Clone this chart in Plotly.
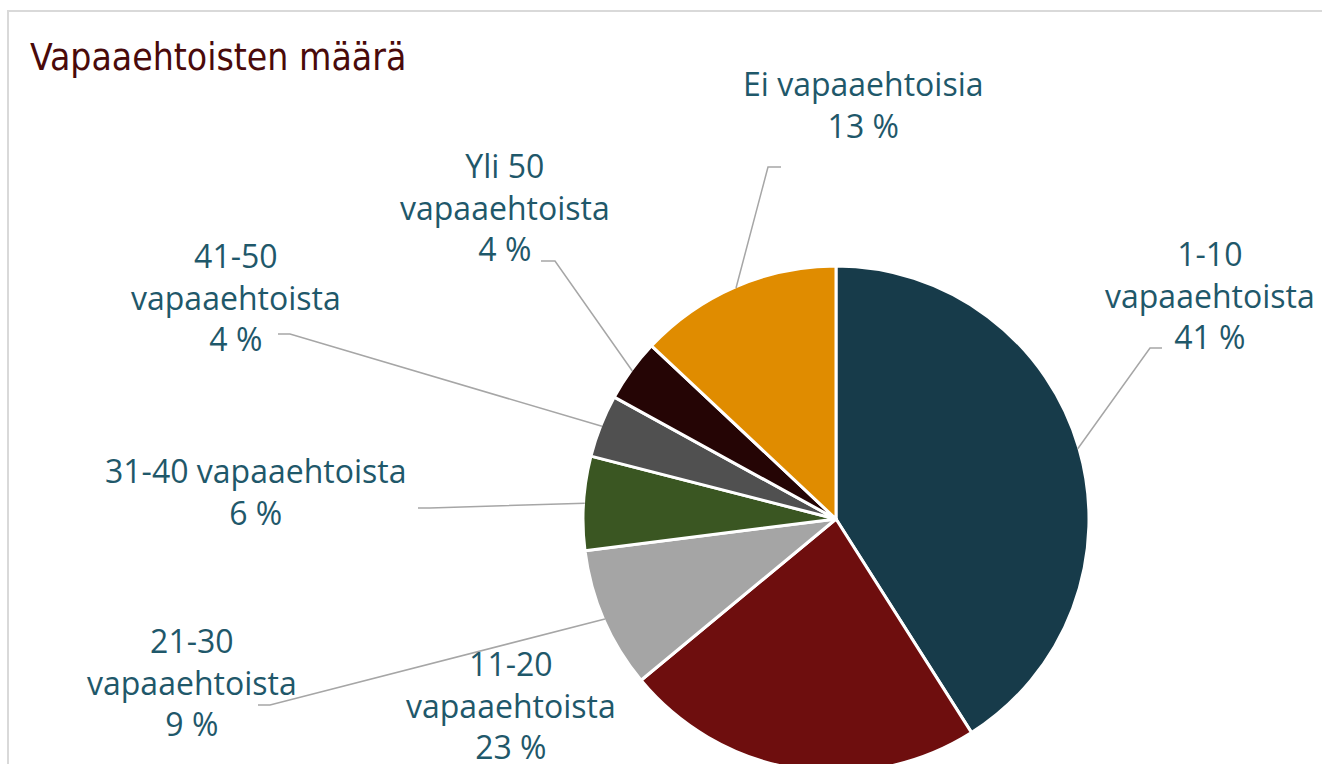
import math

import plotly.graph_objects as go

# data
categories = ["1-10 vapaaehtoista", "11-20 vapaaehtoista", "21-30 vapaaehtoista", "31-40 vapaaehtoista",
              "41-50 vapaaehtoista", "Yli 50 vapaaehtoista", "Ei vapaaehtoisia"]
label_texts = ["1-10<br>vapaaehtoista", "11-20<br>vapaaehtoista", "21-30<br>vapaaehtoista",
               "31-40 vapaaehtoista", "41-50<br>vapaaehtoista", "Yli 50<br>vapaaehtoista", "Ei vapaaehtoisia"]
values = [41, 23, 9, 6, 4, 4, 13]
colors = ["#173b4a", "#6e0e0e", "#a5a5a5", "#3a5622", "#505050", "#250505", "#e08c00"]

# everything below is laid out in screen pixels; the body margin is removed in post_script
W, H = 1322, 780
CX, CY, R = 836, 519, 253

# label layout: (text centre x, first line centre y, leader end x, leader end y, horizontal tail dx)
label_layout = [
    (1210, 253, 1150, 348, 12),
    (511, 663, None, None, 0),
    (192, 640, 270, 705, -12),
    (255, 470, 430, 508, -12),
    (236, 255, 290, 334, -12),
    (505, 165, 555, 261, -14),
    (863, 83, 768, 167, 13),
]

LABEL_COLOR = "#1f586a"
FONT_SIZE = 32


def px(x):
    return x / W


def py(y):
    return 1 - y / H


fig = go.Figure(go.Pie(
    labels=categories, values=values, sort=False, direction="clockwise", rotation=0,
    marker=dict(colors=colors, line=dict(color="white", width=3)),
    textinfo="none", hoverinfo="label+percent", showlegend=False,
    domain=dict(x=[px(CX - R), px(CX + R)], y=[py(CY + R), py(CY - R)]),
))

annotations = []
shapes = []
total = sum(values)
cum = 0
for name, text, val, (tx, ty, lx, ly, tail) in zip(categories, label_texts, values, label_layout):
    mid = (cum + val / 2) / total * 2 * math.pi
    cum += val
    pct = round(val / total * 100)
    annotations.append(dict(
        x=px(tx), y=py(ty - 23), xref="paper", yref="paper", xanchor="center", yanchor="top",
        text=f"{text}<br>{pct} %", showarrow=False, align="center",
        font=dict(family="Open Sans", size=FONT_SIZE, color=LABEL_COLOR),
    ))
    if lx is None:
        continue
    sx = CX + R * 0.995 * math.sin(mid)
    sy = CY - R * 0.995 * math.cos(mid)
    path = f"M {px(sx)},{py(sy)} L {px(lx)},{py(ly)} L {px(lx + tail)},{py(ly)}"
    shapes.append(dict(type="path", path=path, xref="paper", yref="paper",
                       line=dict(color="#a6a6a6", width=1.5)))

# chart frame
shapes.append(dict(type="rect", x0=px(8), x1=px(1340), y0=py(800), y1=py(11), xref="paper", yref="paper",
                   line=dict(color="#d9d9d9", width=2), layer="below"))

annotations.append(dict(
    x=px(28), y=py(58), xref="paper", yref="paper", xanchor="left", yanchor="middle",
    text="Vapaaehtoisten määrä", showarrow=False,
    font=dict(family="DejaVu Sans Condensed", size=37, color="#4a0a0a"),
))

fig.update_layout(
    width=W, height=H, margin=dict(l=0, r=0, t=0, b=0),
    paper_bgcolor="white", plot_bgcolor="white",
    annotations=annotations, shapes=shapes,
)

fig.write_html("out.html", config={"displayModeBar": False},
               post_script="document.body.style.margin='0';document.body.style.overflow='hidden';")
